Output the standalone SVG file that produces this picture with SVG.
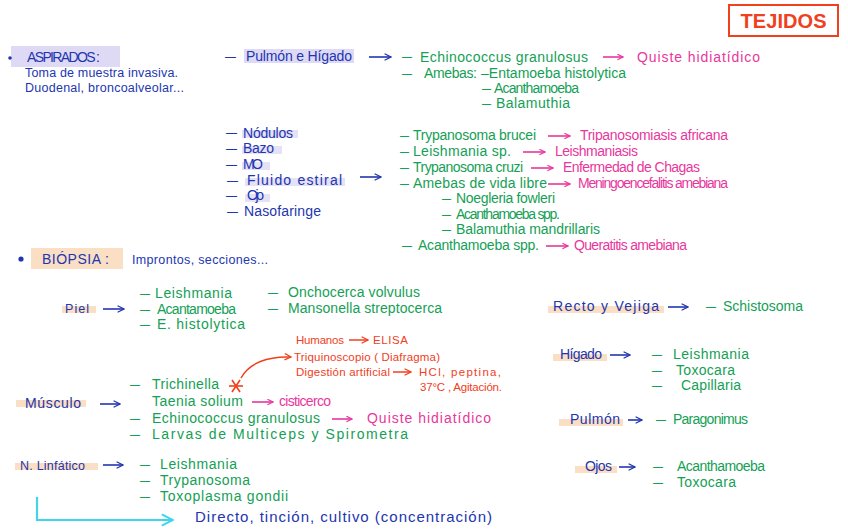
<svg xmlns="http://www.w3.org/2000/svg" width="848" height="531" viewBox="0 0 848 531">
<defs>
<style>
text{font-family:"Liberation Sans",Arial,sans-serif;font-size:14px}
.b{fill:#2236b0}
.g{fill:#14a055}
.p{fill:#e8379c}
.r{fill:#f0401e}
.sm{font-size:11.5px}
.m{font-size:12.5px}
.d{font-size:12px}
.hl{fill:#dedaf5}
.hp{fill:#fbdfc4}
.ab{stroke:#2236b0;stroke-width:1.6;fill:none;marker-end:url(#mb)}
.ap{stroke:#e8379c;stroke-width:1.6;fill:none;marker-end:url(#mp)}
.ar{stroke:#f0401e;stroke-width:1.5;fill:none;marker-end:url(#mr)}
.ac{stroke:#3fd6ea;stroke-width:2.2;fill:none;marker-end:url(#mc)}
</style>
<marker id="mb" viewBox="0 0 10 10" refX="9" refY="5" markerWidth="8" markerHeight="8" markerUnits="userSpaceOnUse" orient="auto"><path d="M1,1 L9,5 L1,9" fill="none" stroke="#2236b0" stroke-width="1.6"/></marker>
<marker id="mp" viewBox="0 0 10 10" refX="9" refY="5" markerWidth="7" markerHeight="7" markerUnits="userSpaceOnUse" orient="auto"><path d="M1,1 L9,5 L1,9" fill="none" stroke="#e8379c" stroke-width="1.6"/></marker>
<marker id="mr" viewBox="0 0 10 10" refX="9" refY="5" markerWidth="8" markerHeight="8" markerUnits="userSpaceOnUse" orient="auto"><path d="M1,1 L9,5 L1,9" fill="none" stroke="#f0401e" stroke-width="1.6"/></marker>
<marker id="mc" viewBox="0 0 10 10" refX="9" refY="5" markerWidth="14" markerHeight="14" markerUnits="userSpaceOnUse" orient="auto"><path d="M1,1 L9,5 L1,9" fill="none" stroke="#3fd6ea" stroke-width="1.4"/></marker>
</defs>
<rect width="848" height="531" fill="#ffffff"/>

<g id="title">
<rect x="729" y="5" width="109" height="31" fill="none" stroke="#f0401e" stroke-width="2"/>
<text class="r" x="783.5" y="28" text-anchor="middle" style="font-size:20px;font-weight:bold" textLength="86">TEJIDOS</text>
</g>

<g id="aspirados">
<rect class="hl" x="11" y="46" width="109" height="21"/>
<circle cx="10" cy="58" r="1.8" fill="#2236b0"/>
<text class="b" x="27" y="62" textLength="73">ASPIRADOS :</text>
<text class="b m" x="25" y="77" textLength="153">Toma de muestra invasiva.</text>
<text class="b m" x="25" y="92" textLength="159">Duodenal, broncoalveolar...</text>
</g>

<g id="pulmon-higado">
<text class="b d" x="225" y="61" textLength="11" lengthAdjust="spacingAndGlyphs">–</text>
<rect class="hl" x="244" y="49" width="110" height="14"/>
<text class="b" x="246" y="61" textLength="106">Pulmón e Hígado</text>
</g>

<g id="aspirado-organismos">
<text class="g d" x="402" y="61" textLength="10" lengthAdjust="spacingAndGlyphs">–</text>
<text class="g" x="420" y="62" textLength="168">Echinococcus granulosus</text>
<text class="p" x="637" y="62" textLength="123">Quiste hidiatídico</text>
<text class="g d" x="402" y="78" textLength="10" lengthAdjust="spacingAndGlyphs">–</text>
<text class="g" x="424" y="78" textLength="53">Amebas:</text>
<text class="g" x="481" y="78" textLength="145">–Entamoeba histolytica</text>
<text class="g d" x="482" y="93" textLength="9" lengthAdjust="spacingAndGlyphs">–</text>
<text class="g" x="494" y="93" textLength="85">Acanthamoeba</text>
<text class="g d" x="482" y="108" textLength="9" lengthAdjust="spacingAndGlyphs">–</text>
<text class="g" x="496" y="108" textLength="74">Balamuthia</text>
</g>

<g id="sitios">
<rect class="hl" x="242" y="130" width="56" height="8" opacity="0.8"/>
<rect class="hl" x="242" y="146" width="40" height="8" opacity="0.8"/>
<rect class="hl" x="242" y="162" width="28" height="8" opacity="0.8"/>
<rect class="hl" x="245" y="178" width="100" height="8" opacity="0.8"/>
<rect class="hl" x="245" y="194" width="25" height="8" opacity="0.8"/>
<text class="b d" x="226" y="137" textLength="11" lengthAdjust="spacingAndGlyphs">–</text>
<text class="b" x="243" y="138" textLength="50">Nódulos</text>
<text class="b d" x="226" y="153" textLength="11" lengthAdjust="spacingAndGlyphs">–</text>
<text class="b" x="243" y="153" textLength="31">Bazo</text>
<text class="b d" x="226" y="169" textLength="11" lengthAdjust="spacingAndGlyphs">–</text>
<text class="b" x="243" y="169" textLength="20">MO</text>
<text class="b d" x="227" y="185" textLength="11" lengthAdjust="spacingAndGlyphs">–</text>
<text class="b" x="247" y="185" textLength="95">Fluido estiral</text>
<text class="b d" x="226" y="200" textLength="11" lengthAdjust="spacingAndGlyphs">–</text>
<text class="b" x="247" y="200" textLength="17">Ojo</text>
<text class="b d" x="227" y="216" textLength="11" lengthAdjust="spacingAndGlyphs">–</text>
<text class="b" x="244" y="216" textLength="77">Nasofaringe</text>
</g>

<g id="sitios-organismos">
<text class="g d" x="400" y="140" textLength="9" lengthAdjust="spacingAndGlyphs">–</text>
<text class="g" x="413" y="140" textLength="123">Trypanosoma brucei</text>
<text class="p" x="580" y="140" textLength="148">Tripanosomiasis africana</text>
<text class="g d" x="400" y="156" textLength="9" lengthAdjust="spacingAndGlyphs">–</text>
<text class="g" x="413" y="156" textLength="98">Leishmania sp.</text>
<text class="p" x="555" y="156" textLength="83">Leishmaniasis</text>
<text class="g d" x="400" y="172" textLength="9" lengthAdjust="spacingAndGlyphs">–</text>
<text class="g" x="413" y="172" textLength="110">Trypanosoma cruzi</text>
<text class="p" x="563" y="172" textLength="137">Enfermedad de Chagas</text>
<text class="g d" x="400" y="188" textLength="9" lengthAdjust="spacingAndGlyphs">–</text>
<text class="g" x="413" y="188" textLength="134">Amebas de vida libre</text>
<text class="p" x="578" y="188" textLength="150">Meningoencefalitis amebiana</text>
<text class="g d" x="442" y="203" textLength="9" lengthAdjust="spacingAndGlyphs">–</text>
<text class="g" x="456" y="203" textLength="99">Noegleria fowleri</text>
<text class="g d" x="442" y="219" textLength="9" lengthAdjust="spacingAndGlyphs">–</text>
<text class="g" x="456" y="219" textLength="104">Acanthamoeba spp.</text>
<text class="g d" x="442" y="234" textLength="9" lengthAdjust="spacingAndGlyphs">–</text>
<text class="g" x="456" y="234" textLength="144">Balamuthia mandrillaris</text>
<text class="g d" x="402" y="250" textLength="10" lengthAdjust="spacingAndGlyphs">–</text>
<text class="g" x="418" y="250" textLength="121">Acanthamoeba spp.</text>
<text class="p" x="574" y="250" textLength="113">Queratitis amebiana</text>
</g>

<g id="biopsia">
<circle cx="21" cy="259" r="2.6" fill="#2236b0"/>
<rect class="hp" x="31" y="248" width="92" height="21"/>
<text class="b" x="42" y="264" textLength="67">BIÓPSIA :</text>
<text class="b m" x="132" y="264" textLength="136">Improntos, secciones...</text>
</g>

<g id="piel">
<rect class="hp" x="62" y="306" width="34" height="7"/>
<text class="b m" x="65" y="313" textLength="24">Piel</text>
<text class="g d" x="140" y="298" textLength="10" lengthAdjust="spacingAndGlyphs">–</text>
<text class="g" x="155" y="298" textLength="77">Leishmania</text>
<text class="g d" x="140" y="314" textLength="10" lengthAdjust="spacingAndGlyphs">–</text>
<text class="g" x="157" y="314" textLength="79">Acantamoeba</text>
<text class="g d" x="140" y="329" textLength="10" lengthAdjust="spacingAndGlyphs">–</text>
<text class="g" x="157" y="329" textLength="88">E. histolytica</text>
<text class="g d" x="268" y="297" textLength="10" lengthAdjust="spacingAndGlyphs">–</text>
<text class="g" x="288" y="297" textLength="132">Onchocerca volvulus</text>
<text class="g d" x="268" y="313" textLength="10" lengthAdjust="spacingAndGlyphs">–</text>
<text class="g" x="288" y="313" textLength="154">Mansonella streptocerca</text>
</g>

<g id="musculo">
<rect class="hp" x="16" y="400" width="70" height="7"/>
<text class="b" x="25" y="408" textLength="56">Músculo</text>
<text class="g d" x="130" y="389" textLength="10" lengthAdjust="spacingAndGlyphs">–</text>
<text class="g" x="152" y="389" textLength="67">Trichinella</text>
<text class="g" x="152" y="406" textLength="91">Taenia solium</text>
<text class="p" x="279" y="406" textLength="52">cisticerco</text>
<text class="g d" x="130" y="423" textLength="10" lengthAdjust="spacingAndGlyphs">–</text>
<text class="g" x="152" y="423" textLength="168">Echinococcus granulosus</text>
<text class="p" x="367" y="423" textLength="124">Quiste hidiatídico</text>
<text class="g d" x="130" y="439" textLength="10" lengthAdjust="spacingAndGlyphs">–</text>
<text class="g" x="152" y="439" textLength="256">Larvas de Multiceps y Spirometra</text>
</g>

<g id="trichinella-diagnostico">
<text class="r sm" x="296" y="344" textLength="48">Humanos</text>
<text class="r sm" x="373" y="344" textLength="35">ELISA</text>
<text class="r sm" x="294" y="361" textLength="146">Triquinoscopio ( Diafragma)</text>
<text class="r sm" x="296" y="376" textLength="94">Digestión artificial</text>
<text class="r sm" x="419" y="376" textLength="82">HCl, peptina,</text>
<text class="r sm" x="420" y="391" textLength="82">37°C , Agitación.</text>
</g>

<g id="linfatico">
<rect class="hp" x="15" y="463" width="83" height="7"/>
<text class="b m" x="20" y="470" textLength="65">N. Linfático</text>
<text class="g d" x="140" y="469" textLength="10" lengthAdjust="spacingAndGlyphs">–</text>
<text class="g" x="160" y="469" textLength="77">Leishmania</text>
<text class="g d" x="140" y="485" textLength="10" lengthAdjust="spacingAndGlyphs">–</text>
<text class="g" x="160" y="485" textLength="90">Trypanosoma</text>
<text class="g d" x="140" y="501" textLength="10" lengthAdjust="spacingAndGlyphs">–</text>
<text class="g" x="160" y="501" textLength="128">Toxoplasma gondii</text>
</g>

<g id="metodos">
<text class="b" x="195" y="522" style="font-size:15px" textLength="297">Directo, tinción, cultivo (concentración)</text>
</g>

<g id="recto-vejiga">
<rect class="hp" x="548" y="306" width="116" height="7"/>
<text class="b" x="553" y="311" textLength="106">Recto y Vejiga</text>
<text class="g d" x="706" y="311" textLength="10" lengthAdjust="spacingAndGlyphs">–</text>
<text class="g" x="723" y="311" textLength="80">Schistosoma</text>
</g>

<g id="higado">
<rect class="hp" x="553" y="354" width="54" height="7"/>
<text class="b" x="560" y="359" textLength="42">Hígado</text>
<text class="g d" x="652" y="359" textLength="10" lengthAdjust="spacingAndGlyphs">–</text>
<text class="g" x="673" y="359" textLength="76">Leishmania</text>
<text class="g d" x="652" y="375" textLength="10" lengthAdjust="spacingAndGlyphs">–</text>
<text class="g" x="676" y="375" textLength="59">Toxocara</text>
<text class="g d" x="652" y="390" textLength="10" lengthAdjust="spacingAndGlyphs">–</text>
<text class="g" x="681" y="390" textLength="60">Capillaria</text>
</g>

<g id="pulmon">
<rect class="hp" x="559" y="419" width="64" height="7"/>
<text class="b" x="570" y="424" textLength="50">Pulmón</text>
<text class="g d" x="656" y="424" textLength="10" lengthAdjust="spacingAndGlyphs">–</text>
<text class="g" x="673" y="424" textLength="75">Paragonimus</text>
</g>

<g id="ojos">
<rect class="hp" x="575" y="466" width="42" height="7"/>
<text class="b" x="585" y="471" textLength="27">Ojos</text>
<text class="g d" x="653" y="471" textLength="10" lengthAdjust="spacingAndGlyphs">–</text>
<text class="g" x="677" y="471" textLength="88">Acanthamoeba</text>
<text class="g d" x="653" y="487" textLength="10" lengthAdjust="spacingAndGlyphs">–</text>
<text class="g" x="677" y="487" textLength="59">Toxocara</text>
</g>

<g id="connectors">
<line class="ab" x1="369" y1="57" x2="391" y2="57"/>
<line class="ap" x1="603" y1="57" x2="623" y2="57"/>
<line class="ab" x1="360" y1="177" x2="381" y2="177"/>
<line class="ap" x1="548" y1="136" x2="570" y2="136"/>
<line class="ap" x1="523" y1="152" x2="545" y2="152"/>
<line class="ap" x1="531" y1="168" x2="553" y2="168"/>
<line class="ap" x1="548" y1="184" x2="570" y2="184"/>
<line class="ap" x1="546" y1="246" x2="568" y2="246"/>
<line class="ab" x1="103" y1="309" x2="124" y2="309"/>
<line class="ab" x1="100" y1="404" x2="120" y2="404"/>
<line class="ap" x1="252" y1="402" x2="273" y2="402"/>
<line class="ap" x1="332" y1="419" x2="352" y2="419"/>
<g stroke="#f0401e" stroke-width="1.6">
<line x1="229" y1="386" x2="243" y2="386"/>
<line x1="232" y1="380" x2="240" y2="392"/>
<line x1="240" y1="380" x2="232" y2="392"/>
</g>
<path class="ar" d="M241,378 C249,363 268,356 291,357"/>
<line class="ar" x1="349" y1="340" x2="368" y2="340"/>
<line class="ar" x1="393" y1="372" x2="411" y2="372"/>
<line class="ab" x1="103" y1="465" x2="123" y2="465"/>
<path class="ac" d="M37,497 V520 H173"/>
<line class="ab" x1="668" y1="307" x2="688" y2="307"/>
<line class="ab" x1="610" y1="355" x2="630" y2="355"/>
<line class="ab" x1="628" y1="420" x2="642" y2="420"/>
<line class="ab" x1="619" y1="467" x2="635" y2="467"/>
</g>
</svg>
